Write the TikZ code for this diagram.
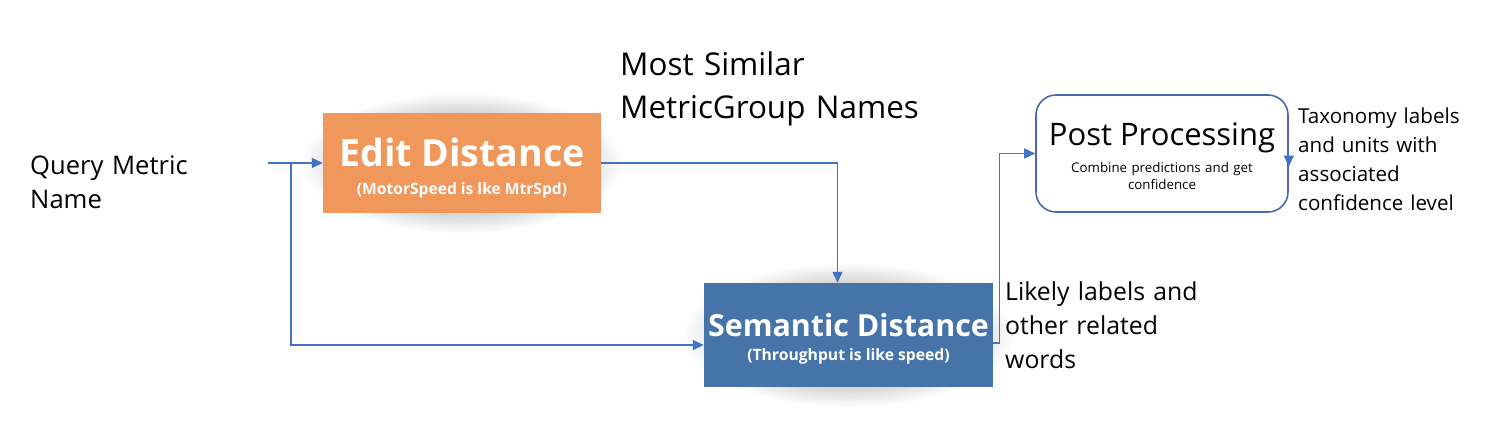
\documentclass[tikz,border=0pt]{standalone}
\usepackage{fontspec}
\setmainfont{Open Sans}
\newfontfamily\osans{Open Sans}
\usetikzlibrary{arrows.meta,fadings,calc}
\tikzfading[name=softglow, inner color=transparent!0, outer color=transparent!100]
\definecolor{orangebox}{HTML}{F0975B}
\definecolor{bluebox}{HTML}{4674A9}
\definecolor{linecol}{HTML}{4472C4}
\definecolor{postborder}{HTML}{4A67B0}
\tikzset{
  conn/.style={draw=linecol, line width=1.3pt},
  arr/.style={conn, -{Triangle[length=11pt,width=10pt]}},
  procbox/.style={rectangle, inner sep=0pt, draw=none},
  glow/.style={black, opacity=0.6, path fading=softglow},
  lbl/.style={inner sep=0pt, anchor=base west, align=left},
  boxtitle/.style={inner sep=0pt, anchor=base, text=white, font=\osans\bfseries},
  boxsub/.style={inner sep=0pt, anchor=base, text=white, font=\osans\bfseries\fontsize{15.6}{18}\selectfont},
}
\begin{document}
\begin{tikzpicture}[x=1pt,y=-1pt]
\useasboundingbox (0,0) rectangle (1506,444);
% shadows
\fill[glow] (462,163) ellipse (160 and 70);
\fill[glow] (848.5,335) ellipse (165 and 72);
% boxes
\node[procbox, fill=orangebox, minimum width=278pt, minimum height=100pt] (edit) at (462,163) {};
\node[procbox, fill=bluebox, minimum width=289pt, minimum height=104pt] (sem) at (848.5,335) {};
\node[rectangle, rounded corners=20pt, draw=postborder, line width=1.6pt, fill=white, minimum width=252pt, minimum height=117pt, inner sep=0pt] (post) at (1162,153.5) {};
% box texts
\node[boxtitle, font=\osans\bfseries\fontsize{37.5}{45}\selectfont] (edittitle) at ([yshift=-3pt]edit.center) {Edit Distance};
\node[boxsub] (editsub) at ([yshift=-31pt]edit.center) {(MotorSpeed is lke MtrSpd)};
\node[boxtitle, font=\osans\bfseries\fontsize{30.4}{36}\selectfont] (semtitle) at ([yshift=-1pt]sem.center) {Semantic Distance};
\node[boxsub, font=\osans\bfseries\fontsize{15.7}{18}\selectfont] (semsub) at ([yshift=-25pt]sem.center) {(Throughput is like speed)};
\node[inner sep=0pt, anchor=base, font=\osans\fontsize{31}{37}\selectfont] (posttitle) at ([yshift=8.5pt]post.center) {Post Processing};
\node[inner sep=0pt, anchor=base, align=center, text width=220pt, font=\osans\fontsize{13.3}{17.5}\selectfont] (postsub) at ([yshift=-18.5pt]post.center) {Combine predictions and get\\confidence};
% labels
\node[lbl, text width=220pt, font=\fontsize{25.6}{34}\selectfont] (query) at (30,174) {Query Metric\\Name};
\node[lbl, text width=320pt, font=\fontsize{31.4}{43}\selectfont] (similar) at (620,75) {Most Similar\\MetricGroup Names};
\node[lbl, text width=220pt, font=\fontsize{24.8}{34}\selectfont] (likely) at (1005,300) {Likely labels and\\other related\\words};
\node[lbl, text width=200pt, font=\fontsize{20.6}{29}\selectfont] (taxo) at (1298,123) {Taxonomy labels\\and units with\\associated\\confidence level};
% connectors
\coordinate (qin) at (268,163);
\coordinate (branch) at (291,163);
\draw[arr] (qin) -- (edit.west);
\draw[arr] (branch) |- ([yshift=-10pt]sem.west);
\draw[arr] (edit.east) -| ([xshift=-11pt]sem.north);
\draw[arr] ([yshift=-8pt]sem.east) -- ++(6,0) |- (post.west);
\draw[arr] ([yshift=7pt]post.east) -- ([yshift=-13pt]post.east);
\end{tikzpicture}
\end{document}
